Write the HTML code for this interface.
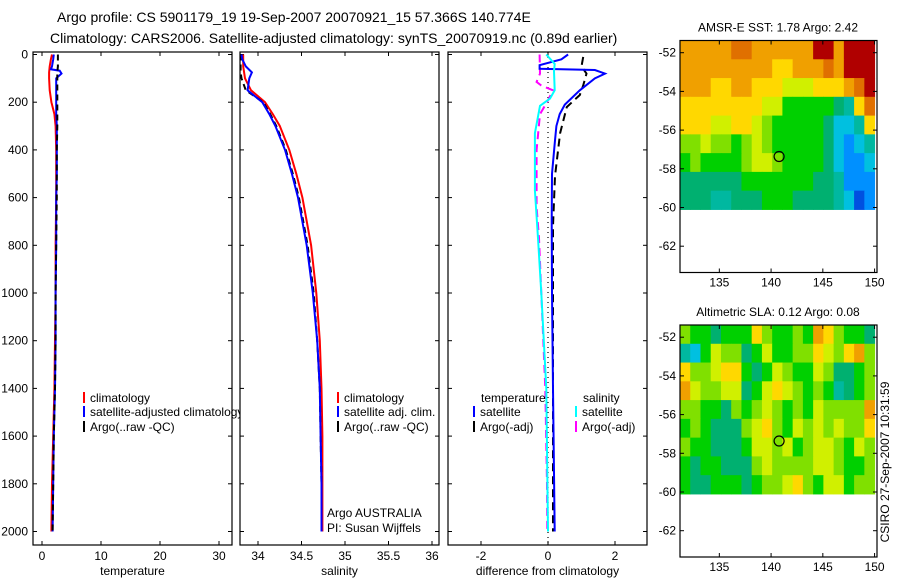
<!DOCTYPE html>
<html><head><meta charset="utf-8"><title>Argo profile</title>
<style>
html,body{margin:0;padding:0;background:#fff;}
svg{display:block;font-family:"Liberation Sans",sans-serif;}
</style></head>
<body>
<svg id="chart" width="900" height="580" viewBox="0 0 900 580" xmlns="http://www.w3.org/2000/svg"></svg>
<script>
// ---------- data ----------
const depthLevels = [0,20,50,75,100,150,200,250,300,400,500,600,800,1000,1200,1400,1600,1800,2000];
const tempClim = [1.7,1.5,1.3,1.2,1.2,1.3,1.6,2.1,2.3,2.4,2.4,2.4,2.3,2.3,2.2,2.1,1.9,1.7,1.6];
const tempSatDepth = [0,20,50,62,68,80,100,150,200,250,300,400,500,600,800,1000,1200,1400,1600,1800,2000];
const tempSat = [2.0,1.9,1.7,1.5,3.0,3.3,2.4,2.4,2.4,2.4,2.5,2.5,2.5,2.4,2.4,2.3,2.3,2.2,2.0,1.9,1.8];
const tempArgo = [2.7,2.7,2.7,2.6,2.6,2.6,2.6,2.6,2.6,2.5,2.5,2.5,2.4,2.3,2.3,2.2,2.0,1.9,1.8];
const salClim = [33.83,33.83,33.83,33.84,33.85,33.92,34.08,34.17,34.25,34.36,34.44,34.51,34.61,34.67,34.71,34.73,34.74,34.74,34.74];
const salSat = [33.81,33.82,33.86,33.93,33.90,33.88,34.05,34.13,34.20,34.31,34.39,34.46,34.56,34.63,34.68,34.71,34.72,34.73,34.73];
const salArgo = [33.80,33.80,33.80,33.80,33.81,33.86,34.06,34.14,34.21,34.32,34.40,34.47,34.57,34.64,34.68,34.71,34.72,34.73,34.73];
const tdSatDepth = [0,20,45,60,65,80,100,150,210,250,300,360,500,700,1000,1400,2000];
const tdSat = [0.6,0.4,-0.25,-0.25,1.4,1.7,1.4,0.95,0.5,0.35,0.25,0.21,0.12,0.11,0.12,0.15,0.2];
const tdArgoDepth = [10,50,80,130,170,220,330,510,720,1000,1500,2000];
const tdArgo = [1.05,1.0,1.15,1.05,0.95,0.56,0.36,0.21,0.15,0.15,0.15,0.15];
const sdSatDepth = [0,40,70,150,185,215,330,570,770,1000,1400,2000];
const sdSat = [-0.05,0.2,0.18,0.2,0.06,-0.24,-0.39,-0.39,-0.3,-0.2,-0.05,0.0];
const sdArgoDepth = [0,80,115,130,150,200,250,400,640,770,1000,1400,1800,2000];
const sdArgo = [-0.25,-0.24,-0.34,-0.2,0.15,-0.03,-0.24,-0.34,-0.34,-0.27,-0.2,-0.08,-0.03,-0.02];
const depthTicks = [0,200,400,600,800,1000,1200,1400,1600,1800,2000];
const tempTicks = [0,10,20,30];
const salTicks = [34,34.5,35,35.5,36];
const diffTicks = [-2,0,2];
const lonTicks = [135,140,145,150];
const latTicks = [-52,-54,-56,-58,-60,-62];
const floatLon = 140.774;
const floatLat = -57.366;
const sstGrid = [
[9,9,9,9,9,10,10,9,9,9,9,9,9,11,11,9,11,11,11],
[9,9,9,9,9,9,9,9,9,8,8,9,9,9,10,9,11,11,11],
[9,9,9,8,8,9,9,8,8,8,7,7,7,8,8,8,9,10,11],
[8,8,8,8,8,8,8,8,7,7,5,5,5,5,5,4,3,8,10],
[8,8,8,7,7,8,8,7,6,5,5,5,5,5,4,2,2,3,8],
[6,6,7,6,6,5,6,7,6,5,5,5,5,5,4,2,1,2,3],
[5,6,5,5,5,5,6,7,7,6,5,5,5,5,4,2,1,1,2],
[4,4,4,4,4,4,5,5,5,5,5,5,5,4,4,3,1,1,1],
[4,4,4,3,3,4,4,4,5,5,5,4,4,4,4,3,2,0,1]];
const slaGrid = [
[6,5,5,4,5,5,5,8,6,5,5,6,5,9,8,6,5,5,4],
[3,2,5,7,6,6,4,5,7,5,5,6,6,8,7,6,8,9,6],
[8,6,6,7,8,8,5,4,5,7,6,5,5,7,6,4,4,5,6],
[9,7,6,6,7,7,4,5,7,8,7,6,5,6,5,3,4,5,6],
[6,6,5,5,4,6,5,6,7,6,5,6,5,7,6,6,6,6,9],
[5,6,5,4,4,4,6,7,8,6,5,7,6,7,6,7,6,6,8],
[6,5,5,4,4,4,5,7,7,6,7,5,6,7,7,6,5,7,6],
[5,4,5,5,4,4,4,6,7,6,6,6,6,7,7,6,5,5,6],
[5,4,4,5,5,5,4,5,6,6,7,8,6,5,7,7,5,6,6]];

// ---------- helpers ----------
const NS = "http://www.w3.org/2000/svg";
const svg = document.getElementById('chart');
function mk(tag, attrs, parent){
  const e = document.createElementNS(NS, tag);
  for (const k in attrs) e.setAttribute(k, attrs[k]);
  (parent||svg).appendChild(e);
  return e;
}
function txt(s, x, y, size, anchor, parent){
  const t = mk('text', {x:x, y:y, 'font-size':size, 'text-anchor':anchor||'start', fill:'#000'}, parent);
  t.textContent = s;
  return t;
}
const yTop = 52, yBot = 545;
const yD = d => 54.5 + d*0.2385;
const panels = [
  {name:'temperature-panel', x0:33, x1:232, f: v => 42 + v*5.9},
  {name:'salinity-panel', x0:240, x1:439, f: v => 258 + (v-34)*87},
  {name:'difference-panel', x0:448, x1:647, f: v => 548 + v*33.5}
];
function clipFor(id, p){
  let defs = svg.querySelector('defs') || mk('defs', {});
  const c = mk('clipPath', {id:id}, defs);
  mk('rect', {x:p.x0, y:yTop, width:p.x1-p.x0, height:yBot-yTop}, c);
}
function line(p, depths, vals, color, name, dash, width){
  const pts = depths.map((d,i)=> p.f(vals[i]).toFixed(1)+','+yD(d).toFixed(1)).join(' ');
  const e = mk('polyline', {points:pts, fill:'none', stroke:color, 'stroke-width':width||2, 'clip-path':'url(#clip-'+p.name+')'});
  if (dash) e.setAttribute('stroke-dasharray', dash);
  
  
  return e;
}
function frame(p, name, ticks, showY){
  const g = mk('g', {});
  
  
  mk('rect', {x:p.x0, y:yTop, width:p.x1-p.x0, height:yBot-yTop, fill:'#fff', stroke:'#000', 'stroke-width':1.2}, g);
  depthTicks.forEach(d=>{
    const y = yD(d);
    mk('line', {x1:p.x0, x2:p.x0+4, y1:y, y2:y, stroke:'#000'}, g);
    mk('line', {x1:p.x1-4, x2:p.x1, y1:y, y2:y, stroke:'#000'}, g);
    if (showY){
      const t = txt(String(d), p.x0-5, y+4, 12, 'end', g);
      
      
    }
  });
  ticks.forEach(v=>{
    const x = p.f(v);
    mk('line', {x1:x, x2:x, y1:yBot, y2:yBot-4, stroke:'#000'}, g);
    mk('line', {x1:x, x2:x, y1:yTop, y2:yTop+4, stroke:'#000'}, g);
    const t = txt(String(v), x, yBot+15, 12, 'middle', g);
    
    
  });
  clipFor('clip-'+p.name, p);
  return g;
}

// ---------- titles ----------
let t = txt('Argo profile: CS 5901179_19 19-Sep-2007 20070921_15 57.366S 140.774E', 57, 22, 14);


t = txt('Climatology: CARS2006. Satellite-adjusted climatology: synTS_20070919.nc (0.89d earlier)', 50, 43, 14);



// ---------- panel 1 ----------
const P1 = panels[0], P2 = panels[1], P3 = panels[2];
frame(P1, 'temperature-axes', tempTicks, true);
line(P1, depthLevels, tempClim, '#ff0000', 'temperature-climatology-line');
line(P1, tempSatDepth, tempSat, '#0000ff', 'temperature-satellite-line');
line(P1, depthLevels, tempArgo, '#000000', 'temperature-argo-line', '6,4');
t = txt('temperature', (P1.x0+P1.x1)/2, 575, 12, 'middle');


function legend(x, y, color, label, name){
  const g = mk('g', {});
  
  
  mk('line', {x1:x, x2:x, y1:y-10, y2:y+1, stroke:color, 'stroke-width':2}, g);
  txt(label, x+6, y, 12, 'start', g);
}
legend(84, 402, '#ff0000', 'climatology', 'legend-entry-climatology');
legend(84, 416, '#0000ff', 'satellite-adjusted climatology', 'legend-entry-satellite-adjusted');
legend(84, 431, '#000000', 'Argo(..raw -QC)', 'legend-entry-argo');

// ---------- panel 2 ----------
frame(P2, 'salinity-axes', salTicks, false);
line(P2, depthLevels, salClim, '#ff0000', 'salinity-climatology-line');
line(P2, depthLevels, salArgo, '#000000', 'salinity-argo-line', '6,4');
line(P2, depthLevels, salSat, '#0000ff', 'salinity-satellite-line');
t = txt('salinity', (P2.x0+P2.x1)/2, 575, 12, 'middle');


legend(338, 402, '#ff0000', 'climatology', 'legend-entry-climatology-sal');
legend(338, 416, '#0000ff', 'satellite adj. clim.', 'legend-entry-satellite-sal');
legend(338, 431, '#000000', 'Argo(..raw -QC)', 'legend-entry-argo-sal');
t = txt('Argo AUSTRALIA', 327, 517, 12);


t = txt('PI: Susan Wijffels', 327, 532, 12);



// ---------- panel 3 ----------
frame(P3, 'difference-axes', diffTicks, false);
const zl = mk('line', {x1:P3.f(0), x2:P3.f(0), y1:yTop, y2:yBot, stroke:'#000', 'stroke-dasharray':'1,4', 'stroke-width':1.2});


line(P3, sdArgoDepth, sdArgo, '#ff00ff', 'salinity-argo-diff-line', '8,5');
line(P3, tdArgoDepth, tdArgo, '#000000', 'temperature-argo-diff-line', '8,5');
line(P3, tdSatDepth, tdSat, '#0000ff', 'temperature-satellite-diff-line');
line(P3, sdSatDepth, sdSat, '#00ffff', 'salinity-satellite-diff-line');
t = txt('difference from climatology', (P3.x0+P3.x1)/2, 575, 12, 'middle');


t = txt('temperature', 481, 402, 12);


t = txt('salinity', 583, 402, 12);


legend(474, 416, '#0000ff', 'satellite', 'legend-entry-temp-satellite');
legend(474, 431, '#000000', 'Argo(-adj)', 'legend-entry-temp-argo');
legend(576, 416, '#00ffff', 'satellite', 'legend-entry-sal-satellite');
legend(576, 431, '#ff00ff', 'Argo(-adj)', 'legend-entry-sal-argo');

// ---------- maps ----------
const palette = ['#0050e0','#0090ff','#00c0e0','#00b8a0','#00b070','#00d000','#80e000','#d0f000','#ffd800','#f0a000','#e07000','#b00000'];
function drawMap(top, grid, title, name){
  const x0 = 680, x1 = 877, y1 = top + 232;
  const lonX = lon => 680 + (lon-131.2)*10.35;
  const latY = lat => (top+12.2) + (-52-lat)*19.35;
  const g = mk('g', {});
  
  
  mk('rect', {x:x0, y:top, width:x1-x0, height:y1-top, fill:'#fff'}, g);
  const rows = grid.length, cols = grid[0].length;
  const latTop = -51.37, latBot = -60.1, lonL = 131.2, lonR = 150.0;
  const dLat = (latTop-latBot)/rows, dLon = (lonR-lonL)/cols;
  grid.forEach((row, r)=>{
    row.forEach((v, c)=>{
      const xa = lonX(lonL + c*dLon), xb = lonX(lonL + (c+1)*dLon);
      const ya = latY(latTop - r*dLat), yb = latY(latTop - (r+1)*dLat);
      const cell = mk('rect', {x:xa, y:ya, width:xb-xa+0.5, height:yb-ya+0.5, fill:palette[v]}, g);
      
      
    });
  });
  mk('rect', {x:x0, y:top, width:x1-x0, height:y1-top, fill:'none', stroke:'#000', 'stroke-width':1.2}, g);
  lonTicks.forEach(l=>{
    const x = lonX(l);
    mk('line', {x1:x, x2:x, y1:y1, y2:y1-4, stroke:'#000'}, g);
    mk('line', {x1:x, x2:x, y1:top, y2:top+4, stroke:'#000'}, g);
    const tl = txt(String(l), x, y1+14, 12, 'middle', g);
    
    
  });
  latTicks.forEach(l=>{
    const y = latY(l);
    mk('line', {x1:x0, x2:x0+4, y1:y, y2:y, stroke:'#000'}, g);
    mk('line', {x1:x1-4, x2:x1, y1:y, y2:y, stroke:'#000'}, g);
    const tl = txt(String(l).replace('-','-'), x0-4, y+4, 12, 'end', g);
    
    
  });
  const mc = mk('circle', {cx:lonX(floatLon), cy:latY(floatLat), r:5, fill:'none', stroke:'#000', 'stroke-width':1.2}, g);
  
  
  const tt = txt(title, 778, top-9, 12, 'middle', g);
  
  
}
drawMap(40.5, sstGrid, 'AMSR-E SST: 1.78 Argo: 2.42', 'sst-map');
drawMap(325, slaGrid, 'Altimetric SLA: 0.12 Argo: 0.08', 'sla-map');

t = txt('CSIRO 27-Sep-2007 10:31:59', 0, 0, 12, 'middle');
t.setAttribute('transform', 'translate(889,462) rotate(-90)');


</script>
</body></html>
